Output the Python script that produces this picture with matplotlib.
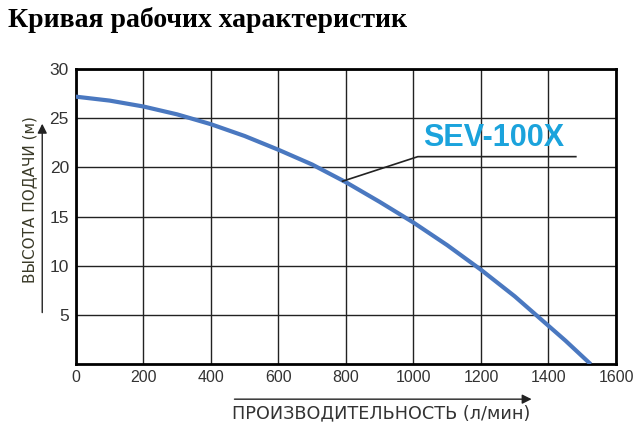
import matplotlib.pyplot as plt
from matplotlib import font_manager
from matplotlib.patches import FancyArrowPatch

# pump curve
flow = [0, 100, 200, 300, 400, 500, 600, 700, 800, 900, 1000, 1100, 1200, 1300, 1400, 1450, 1525]
head = [27.2, 26.8, 26.2, 25.4, 24.4, 23.2, 21.8, 20.3, 18.5, 16.5, 14.4, 12.1, 9.6, 6.9, 3.9, 2.4, 0.0]

x_ticks = [0, 200, 400, 600, 800, 1000, 1200, 1400, 1600]
y_ticks = [5, 10, 15, 20, 25, 30]

title = "Кривая рабочих характеристик"
x_label = "ПРОИЗВОДИТЕЛЬНОСТЬ (л/мин)"
y_label = "ВЫСОТА ПОДАЧИ (м)"
model = "SEV-100X"

# narrow face for the x tick numbers, if there is one
names = {f.name for f in font_manager.fontManager.ttflist}
narrow = 'Liberation Sans Narrow' if 'Liberation Sans Narrow' in names else 'Liberation Sans'

fig = plt.figure(figsize=(6.4, 4.32), dpi=100)
ax = fig.add_axes([0.1185, 0.157, 0.844, 0.683])

ax.plot(flow, head, color='#4a78c0', linewidth=3, solid_capstyle='butt', zorder=3)

ax.set_xlim(0, 1600)
ax.set_ylim(0, 30)
ax.set_xticks(x_ticks)
ax.set_yticks(y_ticks)
ax.grid(True, color='#222222', linewidth=1.0)
ax.tick_params(length=0, labelcolor='#333333')
ax.tick_params(axis='y', labelsize=12.5, pad=5)
ax.tick_params(axis='x', labelsize=12.5 if narrow != 'Liberation Sans' else 11.5, pad=4)
for lbl in ax.get_yticklabels():
    lbl.set_fontfamily('Liberation Sans')
for lbl in ax.get_xticklabels():
    lbl.set_fontfamily(narrow)
for s in ax.spines.values():
    s.set_linewidth(2)
    s.set_color('black')

# model label with leader line
ax.text(1238, 23.0, model, color='#1ba3dc', fontsize=22, fontweight='bold',
        ha='center', va='center', family='Liberation Sans')
ax.plot([790, 1013, 1481], [18.6, 21.1, 21.1], color='#222222', linewidth=1.2, zorder=4)

# title
fig.text(0.0125, 0.953, title, fontsize=20, fontweight='bold', family='Liberation Serif',
         ha='left', va='center')

# axis labels with arrows
fig.text(0.596, 0.044, x_label, fontsize=12.7, color='#333333', ha='center', va='center',
         family='DejaVu Sans')
fig.add_artist(FancyArrowPatch(
    (0.362, 0.076), (0.835, 0.076), transform=fig.transFigure,
    arrowstyle='-|>', mutation_scale=14, color='#222222', linewidth=1))
fig.text(0.047, 0.539, y_label, fontsize=11, color='#3a3a28', ha='center', va='center',
         rotation=90, family='DejaVu Sans')
fig.add_artist(FancyArrowPatch(
    (0.066, 0.27), (0.066, 0.72), transform=fig.transFigure,
    arrowstyle='-|>', mutation_scale=14, color='#222222', linewidth=1))

plt.savefig('out.png', dpi=100)
plt.close()
